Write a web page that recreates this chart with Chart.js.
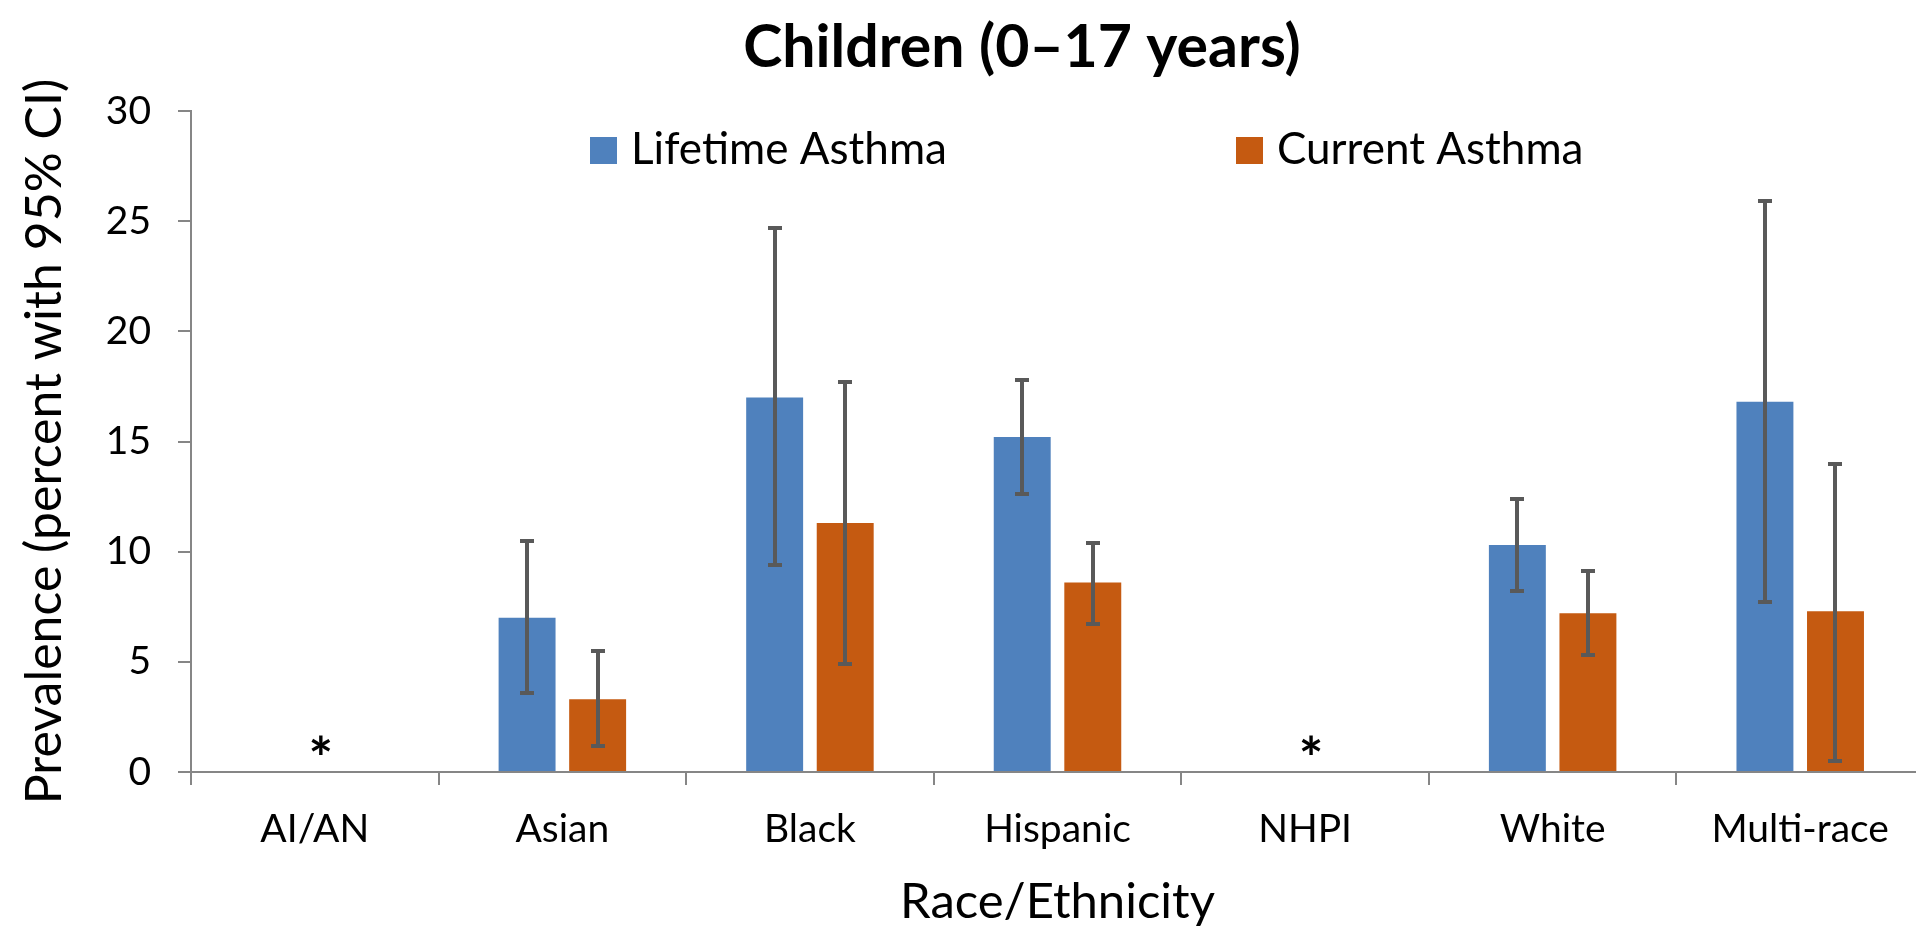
<!DOCTYPE html>
<html>
<head>
<meta charset="utf-8">
<script src="https://cdn.jsdelivr.net/npm/chart.js@4.4.0/dist/chart.umd.min.js"></script>
<style>
  html, body { margin: 0; padding: 0; background: #ffffff; overflow: hidden; }
  #wrap { width: 1925px; height: 929px; }
</style>
</head>
<body>
<div id="wrap"><canvas id="c" width="1925" height="929"></canvas></div>
<script>
// ---- data ----
const categories = ['AI/AN', 'Asian', 'Black', 'Hispanic', 'NHPI', 'White', 'Multi-race'];
const lifetimeValues = [null, 7.0, 17.0, 15.2, null, 10.3, 16.8];
const lifetimeLow    = [null, 3.6, 9.4, 12.6, null, 8.2, 7.7];
const lifetimeHigh   = [null, 10.5, 24.7, 17.8, null, 12.4, 25.9];
const currentValues  = [null, 3.3, 11.3, 8.6, null, 7.2, 7.3];
const currentLow     = [null, 1.2, 4.9, 6.7, null, 5.3, 0.5];
const currentHigh    = [null, 5.5, 17.7, 10.4, null, 9.1, 14.0];
const suppressed     = ['AI/AN', 'NHPI'];
const seriesNames    = ['Lifetime Asthma', 'Current Asthma'];
const yTicks         = [0, 5, 10, 15, 20, 25, 30];
const chartTitle     = 'Children (0\u201317 years)';
const xTitle         = 'Race/Ethnicity';
const yTitle         = 'Prevalence (percent with 95% CI)';

// ---- styles ----
const FONT = 'Lato';
const BLUE = '#4F81BD';
const ORANGE = '#C55A11';
const AXIS = '#868686';
const ERR = '#595959';

const errorBarPlugin = {
  id: 'errorBars',
  afterDatasetsDraw(chart) {
    const ctx = chart.ctx;
    const y = chart.scales.y;
    chart.data.datasets.forEach((ds, i) => {
      const meta = chart.getDatasetMeta(i);
      meta.data.forEach((el, j) => {
        if (ds.data[j] == null || ds.errLow[j] == null) return;
        const x = Math.round(el.x);
        const yl = Math.round(y.getPixelForValue(ds.errLow[j]));
        const yh = Math.round(y.getPixelForValue(ds.errHigh[j]));
        ctx.save();
        ctx.strokeStyle = ERR;
        ctx.lineWidth = 4;
        ctx.beginPath();
        ctx.moveTo(x, yl); ctx.lineTo(x, yh);
        ctx.moveTo(x - 7, yl); ctx.lineTo(x + 7, yl);
        ctx.moveTo(x - 7, yh); ctx.lineTo(x + 7, yh);
        ctx.stroke();
        ctx.restore();
      });
    });
  }
};

const asteriskPlugin = {
  id: 'asterisks',
  afterDatasetsDraw(chart) {
    const ctx = chart.ctx;
    const xs = chart.scales.x;
    ctx.save();
    ctx.fillStyle = '#000';
    ctx.font = 'bold 58px ' + FONT;
    ctx.textAlign = 'center';
    ctx.textBaseline = 'middle';
    suppressed.forEach(cat => {
      const idx = categories.indexOf(cat);
      const x = xs.getPixelForValue(idx) + 6;
      ctx.fillText('*', x, chart.chartArea.bottom - 12);
    });
    ctx.restore();
  }
};

const legendPlugin = {
  id: 'customLegend',
  afterDraw(chart) {
    const ctx = chart.ctx;
    const starts = [590, 1236];
    ctx.save();
    ctx.font = '44px ' + FONT;
    ctx.textBaseline = 'alphabetic';
    ctx.textAlign = 'left';
    chart.data.datasets.forEach((ds, i) => {
      const x0 = starts[i];
      ctx.fillStyle = ds.backgroundColor;
      ctx.fillRect(x0, 137, 27, 27);
      ctx.fillStyle = '#000';
      ctx.fillText(ds.label, x0 + 41, 164);
    });
    ctx.restore();
  }
};

const titleShiftPlugin = {
  id: 'titleShift',
  afterLayout(chart) {
    if (chart.titleBlock) {
      chart.titleBlock.left += 60;
      chart.titleBlock.right += 60;
    }
  }
};

new Chart(document.getElementById('c'), {
  type: 'bar',
  data: {
    labels: categories,
    datasets: [
      { label: seriesNames[0], data: lifetimeValues, backgroundColor: BLUE,
        errLow: lifetimeLow, errHigh: lifetimeHigh,
        categoryPercentage: 0.57, barPercentage: 0.807 },
      { label: seriesNames[1], data: currentValues, backgroundColor: ORANGE,
        errLow: currentLow, errHigh: currentHigh,
        categoryPercentage: 0.57, barPercentage: 0.807 }
    ]
  },
  options: {
    responsive: false,
    devicePixelRatio: 1,
    animation: false,
    layout: { padding: { left: 0, right: 1, top: 0, bottom: 0 } },
    plugins: {
      legend: { display: false },
      tooltip: { enabled: false },
      title: {
        display: true,
        text: chartTitle,
        color: '#000',
        font: { family: FONT, size: 59, weight: 'bold', lineHeight: 1 },
        padding: { top: 18, bottom: 34 }
      }
    },
    scales: {
      x: {
        afterFit(scale) { scale.height = 157; },
        border: { display: true, color: AXIS, width: 2 },
        grid: { display: true, drawOnChartArea: false, drawTicks: true, tickLength: 13, color: AXIS, lineWidth: 2, offset: true },
        ticks: { color: '#000', font: { family: FONT, size: 39 }, padding: 21, maxRotation: 0, autoSkip: false },
        title: { display: true, text: xTitle, color: '#000', font: { family: FONT, size: 49, lineHeight: 1 }, padding: { top: 0, bottom: 2 } }
      },
      y: {
        min: 0, max: 30,
        afterFit(scale) { scale.width = 191; },
        afterBuildTicks(scale) { scale.ticks = yTicks.map(v => ({ value: v })); },
        border: { display: true, color: AXIS, width: 2 },
        grid: { display: true, drawOnChartArea: false, drawTicks: true, tickLength: 13, color: AXIS, lineWidth: 2 },
        ticks: { color: '#000', font: { family: FONT, size: 39 }, padding: 27 },
        title: { display: true, text: yTitle, color: '#000', font: { family: FONT, size: 50 }, padding: { top: 15, bottom: 0 } }
      }
    }
  },
  plugins: [errorBarPlugin, asteriskPlugin, legendPlugin, titleShiftPlugin]
});
</script>
</body>
</html>
